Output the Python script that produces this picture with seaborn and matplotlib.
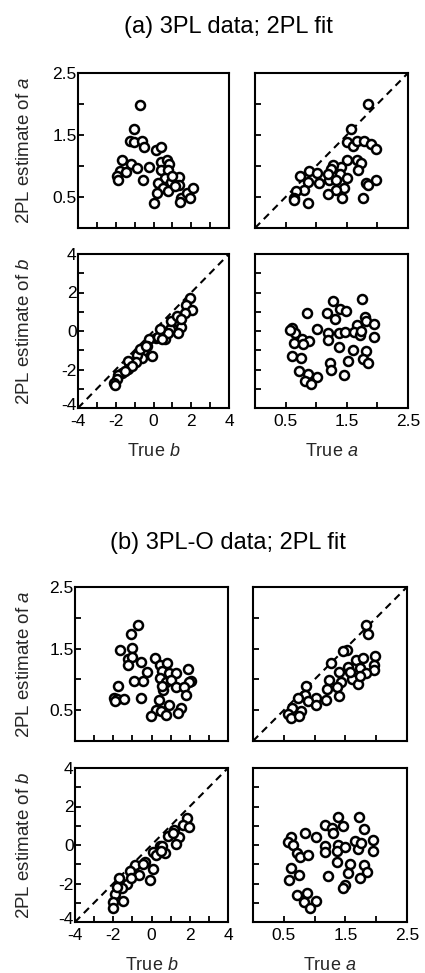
import matplotlib
matplotlib.use("Agg")
import matplotlib.pyplot as plt
import matplotlib.transforms as mtransforms
import seaborn as sns
import pandas as pd

# ---------------- data: (a) 3PL data; 2PL fit ----------------
A_TL_TRUE_B = [-0.72, -1.05, -1.23, -1.05, -0.63, -0.49, 0.14, 0.42, -1.65, -1.21, -0.88, -0.23, -1.75,
               -1.44, -1.91, -1.86, -0.56, 0.39, 0.74, 0.81, 0.39, 0.77, 0.60, 0.95, 0.25, 1.33, 1.33,
               0.51, 0.77, 0.21, 0.02, 1.47, 1.40, 1.79, 2.07, 1.96, 1.12, 1.00]
A_TL_EST_A = [1.99, 1.60, 1.40, 1.39, 1.41, 1.31, 1.26, 1.31, 1.10, 1.03, 0.97, 0.99, 0.92,
              0.91, 0.84, 0.77, 0.78, 1.06, 1.10, 1.03, 0.94, 0.94, 0.80, 0.75, 0.72, 0.82, 0.69,
              0.64, 0.59, 0.56, 0.40, 0.48, 0.42, 0.56, 0.65, 0.49, 0.67, 0.84]

A_TR_TRUE_A = [1.84, 1.57, 1.51, 1.60, 1.67, 1.78, 1.89, 1.98, 1.50, 1.67, 1.73, 1.68, 1.40, 1.27,
               1.24, 1.39, 1.50, 1.21, 1.32, 1.46, 1.32, 1.20, 1.42, 1.05, 0.89, 1.02, 0.74, 0.86,
               0.80, 0.67, 0.64, 0.63, 0.87, 1.82, 1.85, 1.98, 1.76, 1.20]
A_TR_EST_A = [2.00, 1.60, 1.39, 1.32, 1.41, 1.40, 1.35, 1.27, 1.09, 1.10, 1.05, 0.94, 0.99, 1.02,
              0.95, 0.87, 0.80, 0.77, 0.77, 0.64, 0.61, 0.55, 0.49, 0.72, 0.92, 0.88, 0.84, 0.75,
              0.62, 0.59, 0.48, 0.45, 0.40, 0.73, 0.69, 0.78, 0.49, 0.87]

A_BL_TRUE_B = [1.91, 1.72, 2.04, 1.65, 1.16, 1.47, 1.30, 0.86, 0.46, 0.60, 0.11, -0.25, -0.32, -0.07,
               -0.54, -0.63, -0.89, -0.95, -1.37, -1.33, -1.65, -1.86, -1.93, -2.07, -2.04, 0.95,
               0.25, 0.77, -0.72, -1.16, 1.26, 0.33, -1.51, -0.42, 0.46, 1.47]
A_BL_EST_B = [1.70, 1.33, 1.09, 0.95, 0.52, 0.23, -0.12, 0.12, -0.05, -0.40, -0.35, -0.43, -0.78, -1.30,
              -1.06, -1.39, -1.26, -1.61, -1.58, -1.96, -2.20, -2.27, -2.48, -2.68, -2.82, 0.52,
              -0.29, -0.12, -0.95, -1.82, 0.78, 0.09, -2.08, -0.78, -0.43, 0.61]

A_BR_TRUE_A = [1.75, 1.27, 1.39, 1.49, 1.17, 0.85, 1.31, 1.79, 1.81, 1.95, 1.67, 1.01, 1.20, 1.38,
               1.47, 1.62, 1.72, 1.73, 1.95, 0.60, 0.65, 0.76, 0.89, 0.64, 1.19, 1.38, 0.78, 0.60,
               0.75, 1.60, 1.82, 1.76, 1.85, 1.52, 1.22, 1.24, 1.46, 0.72, 0.86, 0.81, 1.01, 0.92, 0.58]
A_BR_EST_B = [1.68, 1.54, 1.16, 1.02, 0.92, 0.92, 0.61, 0.74, 0.52, 0.35, 0.29, 0.09, -0.12, -0.09,
              -0.05, -0.05, -0.23, 0.00, -0.29, 0.17, -0.12, -0.40, -0.52, -0.64, -0.47, -0.81, -0.69,
              -1.30, -1.39, -0.99, -1.04, -1.47, -1.68, -1.56, -1.68, -2.03, -2.27, -2.08, -2.25,
              -2.58, -2.37, -2.77, 0.05]

# ---------------- data: (b) 3PL-O data; 2PL fit ----------------
B_TL_TRUE_B = [-0.70, -1.06, -1.65, -1.03, -1.23, -1.03, -0.57, -1.23, -0.23, -0.43, -0.89, -1.77,
               -1.97, -1.83, -1.44, -0.57, -1.90, 0.19, 0.43, 0.82, 0.57, 0.92, 1.27, 0.43, 0.75,
               1.03, 1.93, 2.05, 1.97, 1.30, 1.72, 1.83, 0.61, 0.37, 0.92, 1.53, 0.23, 0.50, -0.05,
               0.75, 1.37, 0.57]
B_TL_EST_A = [1.88, 1.73, 1.47, 1.51, 1.33, 1.37, 1.28, 1.23, 1.12, 0.97, 0.97, 0.89,
              0.70, 0.68, 0.68, 0.70, 0.65, 1.35, 1.23, 1.26, 1.14, 1.10, 1.11, 1.03, 0.96,
              0.99, 1.17, 0.98, 0.96, 0.88, 0.87, 0.75, 0.82, 0.67, 0.59, 0.54, 0.51, 0.49, 0.40,
              0.42, 0.45, 0.89]

B_TR_TRUE_A = [1.83, 1.87, 1.52, 1.46, 1.26, 1.67, 1.78, 1.98, 1.97, 1.97, 1.73, 1.54, 1.40, 1.84,
               1.60, 1.71, 1.43, 1.23, 1.20, 1.36, 1.39, 1.19, 1.02, 0.86, 0.85, 0.90, 0.73, 1.03,
               0.78, 0.64, 0.57, 0.62, 0.74, 1.73, 1.57]
B_TR_EST_A = [1.89, 1.74, 1.48, 1.46, 1.27, 1.32, 1.34, 1.38, 1.24, 1.15, 1.19, 1.20, 1.12, 1.11,
              1.00, 0.92, 0.96, 0.99, 0.85, 0.87, 0.73, 0.67, 0.70, 0.89, 0.74, 0.65, 0.69, 0.58,
              0.49, 0.54, 0.44, 0.38, 0.41, 1.05, 1.12]

B_BL_TRUE_B = [1.88, 1.65, 1.97, 1.44, 1.20, 0.85, 1.30, 0.47, 0.71, 0.31, 0.09, -0.33, 0.09, -0.09,
               -0.64, -0.85, -1.13, -1.30, -1.69, -1.55, -1.90, -1.51, -2.03, -2.03, -1.79, 0.54,
               1.10, -0.47, -1.08, 0.23, 0.49]
B_BL_EST_B = [1.41, 1.06, 0.96, 0.40, 0.78, 0.45, 0.05, -0.07, -0.42, -0.42, -0.37, -0.89, -1.23,
              -1.81, -1.58, -1.03, -1.37, -2.03, -1.72, -2.24, -2.52, -2.90, -2.94, -3.29, -2.16,
              -0.07, 0.63, -0.99, -1.72, -0.50, -0.30]

B_BR_TRUE_A = [1.72, 1.38, 1.80, 1.46, 1.17, 1.28, 1.30, 0.84, 1.02, 0.61, 0.57, 0.65, 1.17, 1.17,
               1.38, 1.36, 1.49, 1.66, 1.71, 1.76, 1.94, 1.94, 0.72, 0.76, 0.89, 1.36, 1.58, 1.54,
               1.81, 1.85, 1.74, 0.62, 0.74, 0.58, 1.22, 1.50, 1.46, 0.72, 0.87, 0.83, 1.02, 0.92]
B_BR_EST_B = [1.44, 1.48, 0.85, 0.99, 1.06, 0.89, 0.61, 0.61, 0.43, 0.40, 0.16, 0.02, -0.05, -0.37,
              0.02, -0.30, -0.09, 0.23, -0.19, 0.09, 0.26, -0.30, -0.40, -0.64, -0.50, -0.89, -0.99,
              -1.46, -1.06, -1.41, -1.72, -1.20, -1.55, -1.81, -1.63, -2.10, -2.21, -2.59, -2.50,
              -2.94, -2.90, -3.25]

TITLES = ["(a) 3PL data; 2PL fit", "(b) 3PL-O data; 2PL fit"]
A_TICKS = [0.5, 1.0, 1.5, 2.0, 2.5]
A_TICKLABELS = ["0.5", "", "1.5", "", "2.5"]
B_TICKS = [-4, -3, -2, -1, 0, 1, 2, 3, 4]
B_TICKLABELS = ["-4", "", "-2", "", "0", "", "2", "", "4"]

# ---------------- style ----------------
sns.set_theme(style="white")
plt.rcParams["font.family"] = ["Liberation Sans", "DejaVu Sans"]
plt.rcParams["mathtext.fontset"] = "custom"
plt.rcParams["mathtext.rm"] = "Liberation Sans"
plt.rcParams["mathtext.it"] = "Liberation Sans:italic"
plt.rcParams["axes.edgecolor"] = "black"
plt.rcParams["axes.linewidth"] = 1.4

W, H = 425, 973
fig = plt.figure(figsize=(W / 100, H / 100), dpi=100)


def box(x0, y0, x1, y1):
    return [x0 / W, 1 - y1 / H, (x1 - x0) / W, (y1 - y0) / H]


def setup(ax, xkind, ykind, xlabels, ylabels):
    lims = {"a": (0, 2.5), "b": (-4, 4)}
    ticks = {"a": (A_TICKS, A_TICKLABELS), "b": (B_TICKS, B_TICKLABELS)}
    ax.set_xlim(*lims[xkind])
    ax.set_ylim(*lims[ykind])
    xt, xl = ticks[xkind]
    yt, yl = ticks[ykind]
    ax.set_xticks(xt)
    ax.set_xticklabels(xl if xlabels else [""] * len(xt))
    ax.set_yticks(yt)
    ax.set_yticklabels(yl if ylabels else [""] * len(yt))
    ax.tick_params(axis="both", direction="in", length=4.5, width=1.3, colors="black",
                   labelsize=12.5, bottom=True, left=True, top=False, right=False)
    ax.tick_params(axis="x", pad=4.5)
    ax.tick_params(axis="y", pad=1)
    for s in ax.spines.values():
        s.set_visible(True)
        s.set_color("black")
        s.set_linewidth(1.5)
    ax.set_xlabel("")
    ax.set_ylabel("")
    # lift the lowest y label of the b-axis slightly so it clears the x labels
    if ykind == "b" and ylabels:
        lbl = ax.get_yticklabels()[0]
        lbl.set_transform(lbl.get_transform() +
                          mtransforms.ScaledTranslation(0, 4 / 100, fig.dpi_scale_trans))


def scatter(ax, x, y):
    df = pd.DataFrame({"x": x, "y": y})
    sns.scatterplot(data=df, x="x", y="y", ax=ax, marker="o", s=42, facecolor="white",
                    edgecolor="black", linewidth=1.8, zorder=3, legend=False)


def diag(ax, lo, hi):
    df = pd.DataFrame({"x": [lo, hi], "y": [lo, hi]})
    sns.lineplot(data=df, x="x", y="y", ax=ax, color="black", lw=1.5,
                 linestyle=(0, (3.5, 2.5)), zorder=2)


groups = [
    dict(top=73, mid=254, bot_top=228, bot=408, lx=78, rx=229, lx2=255, rx2=408,
         title_y=27,
         data=[(A_TL_TRUE_B, A_TL_EST_A), (A_TR_TRUE_A, A_TR_EST_A),
               (A_BL_TRUE_B, A_BL_EST_B), (A_BR_TRUE_A, A_BR_EST_B)]),
    dict(top=587, mid=768, bot_top=741, bot=922, lx=75, rx=228, lx2=253, rx2=407,
         title_y=543,
         data=[(B_TL_TRUE_B, B_TL_EST_A), (B_TR_TRUE_A, B_TR_EST_A),
               (B_BL_TRUE_B, B_BL_EST_B), (B_BR_TRUE_A, B_BR_EST_B)]),
]

for gi, g in enumerate(groups):
    ax_tl = fig.add_axes(box(g["lx"], g["top"], g["rx"], g["bot_top"]))
    ax_tr = fig.add_axes(box(g["lx2"], g["top"], g["rx2"], g["bot_top"]))
    ax_bl = fig.add_axes(box(g["lx"], g["mid"], g["rx"], g["bot"]))
    ax_br = fig.add_axes(box(g["lx2"], g["mid"], g["rx2"], g["bot"]))

    (x1, y1), (x2, y2), (x3, y3), (x4, y4) = g["data"]
    diag(ax_tr, 0, 2.5)
    diag(ax_bl, -4, 4)
    scatter(ax_tl, x1, y1)
    scatter(ax_tr, x2, y2)
    scatter(ax_bl, x3, y3)
    scatter(ax_br, x4, y4)

    setup(ax_tl, "b", "a", False, True)
    setup(ax_tr, "a", "a", False, False)
    setup(ax_bl, "b", "b", True, True)
    setup(ax_br, "a", "b", True, False)

    lw = g["rx"] - g["lx"]
    ax_tl.set_ylabel("2PL estimate of $\\mathit{a}$", fontsize=13.5)
    ax_tl.yaxis.set_label_coords((33 - g["lx"]) / lw, 0.5)
    ax_bl.set_ylabel("2PL estimate of $\\mathit{b}$", fontsize=13.5)
    ax_bl.yaxis.set_label_coords((33 - g["lx"]) / lw, 0.5)
    ax_bl.set_xlabel("True $\\mathit{b}$", fontsize=13)
    ax_br.set_xlabel("True $\\mathit{a}$", fontsize=13)
    for ax in (ax_bl, ax_br):
        ax.xaxis.set_label_coords(0.5, -0.225)

    fig.text(228 / W, 1 - g["title_y"] / H, TITLES[gi], ha="center", va="center",
             fontsize=17, color="black")

fig.savefig("out.png", dpi=100, facecolor="white")
